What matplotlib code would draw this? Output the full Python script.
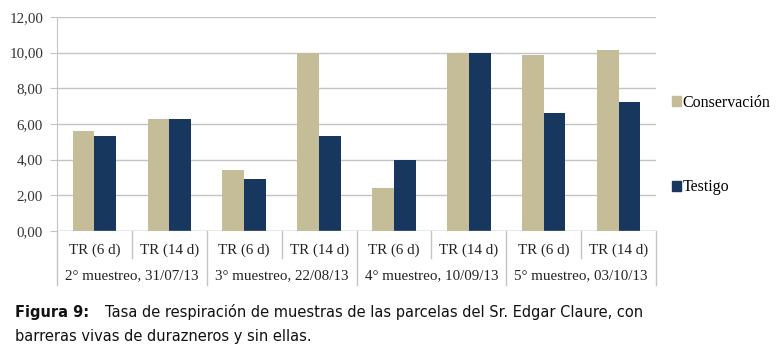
import numpy as np
import matplotlib.pyplot as plt
from matplotlib.patches import Patch

sub_labels = ["TR (6 d)", "TR (14 d)"] * 4
group_labels = ["2° muestreo, 31/07/13", "3° muestreo, 22/08/13",
                "4° muestreo, 10/09/13", "5° muestreo, 03/10/13"]
conservacion = [5.6, 6.3, 3.4, 10.0, 2.4, 10.0, 9.85, 10.15]
testigo = [5.3, 6.3, 2.9, 5.3, 4.0, 10.0, 6.6, 7.25]

c_cons = "#c4bd97"
c_test = "#17375e"
grid_c = "#c4c4c4"
serif = ["Liberation Serif", "DejaVu Serif"]
fs = 10.8

fig = plt.figure(figsize=(7.82, 3.54), dpi=100)
W, H = 782, 354
ax = fig.add_axes([57 / W, (H - 231) / H, (656 - 57) / W, (231 - 17) / H])

x = np.arange(len(conservacion))
bw = 0.29
ax.bar(x - bw / 2, conservacion, bw, color=c_cons, zorder=3)
ax.bar(x + bw / 2, testigo, bw, color=c_test, zorder=3)

ax.set_xlim(-0.5, len(x) - 0.5)
ax.set_ylim(0, 12)
ax.set_yticks(np.arange(0, 13, 2))
ax.set_yticklabels([f"{v:.2f}".replace(".", ",") for v in range(0, 13, 2)],
                   family=serif, fontsize=fs, color="#333333")
ax.yaxis.grid(True, color=grid_c, lw=1, zorder=0)
ax.tick_params(axis="y", length=5, color=grid_c, pad=5)
ax.set_xticks([])
for s in ["top", "right", "bottom"]:
    ax.spines[s].set_visible(False)
ax.spines["left"].set_color(grid_c)
ax.axhline(0, color=grid_c, lw=1, zorder=4)

# category separators and labels below the axis
tr = ax.get_xaxis_transform()
for i in range(len(x) + 1):
    xs = i - 0.5
    bottom = -0.252 if i % 2 == 0 else -0.126
    ax.plot([xs, xs], [0, bottom], transform=tr, color=grid_c, lw=1,
            clip_on=False)
for i, lab in enumerate(sub_labels):
    ax.text(i, -0.089, lab, transform=tr, ha="center", va="center",
            family=serif, fontsize=fs, color="#222222")
for g, lab in enumerate(group_labels):
    ax.text(2 * g + 0.5, -0.21, lab, transform=tr, ha="center", va="center",
            family=serif, fontsize=fs, color="#222222")

handles = [Patch(color=c_cons, label="Conservación"),
           Patch(color=c_test, label="Testigo")]
fig.legend(handles=handles, loc="center left",
           bbox_to_anchor=(658 / W, (H - 145) / H), frameon=False,
           prop={"family": serif, "size": 11.5}, handlelength=0.55,
           handleheight=0.55, handletextpad=0.1, labelspacing=4.3)

cap = ["Liberation Sans Narrow", "DejaVu Sans"]
fig.text(15 / W, (H - 312) / H, "Figura 9:", family=cap, fontsize=10.5,
         fontweight="bold", va="center", color="#111111")
fig.text(105 / W, (H - 312) / H,
         "Tasa de respiración de muestras de las parcelas del Sr. Edgar Claure, con",
         family=cap, fontsize=10.5, va="center", color="#111111")
fig.text(15 / W, (H - 336) / H, "barreras vivas de durazneros y sin ellas.",
         family=cap, fontsize=10.5, va="center", color="#111111")

fig.savefig("out.png", dpi=100)
